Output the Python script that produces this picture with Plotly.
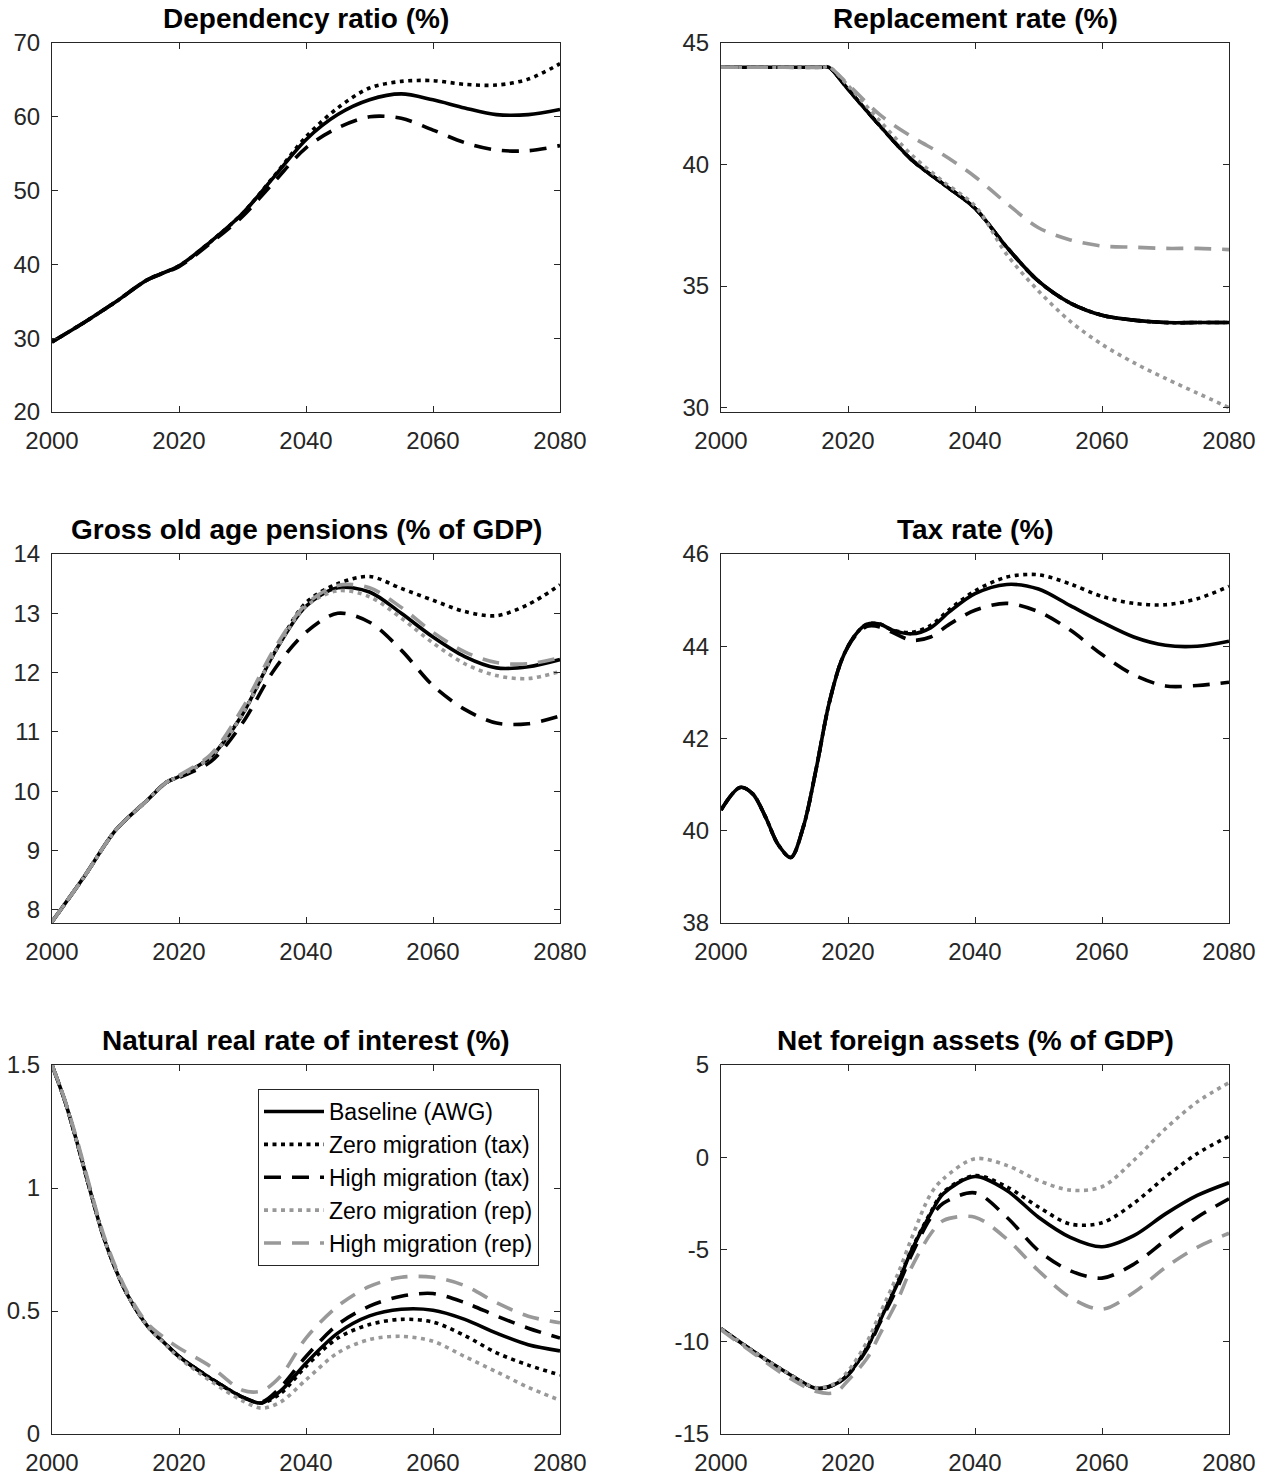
import plotly.graph_objects as go

# ---------------- data ----------------
DEP_YEARS = [2000, 2005, 2010, 2015, 2020, 2025, 2030, 2035, 2040, 2045, 2050, 2055, 2060, 2065, 2070, 2075, 2080]
DEP_BASE = [29.5, 32.1, 34.9, 37.9, 39.8, 43.1, 46.9, 51.9, 56.9, 60.3, 62.3, 63.1, 62.3, 61.2, 60.3, 60.3, 61.0]
DEP_ZERO_TAX = [29.5, 32.1, 34.9, 37.9, 39.8, 43.1, 46.9, 52.0, 57.3, 61.2, 63.9, 64.8, 64.9, 64.4, 64.3, 65.1, 67.2]
DEP_HIGH_TAX = [29.5, 32.1, 34.9, 37.9, 39.7, 42.9, 46.5, 51.2, 55.8, 58.5, 60.0, 59.8, 58.2, 56.5, 55.5, 55.4, 56.1]

REP_YEARS = [2000, 2010, 2016, 2017, 2020, 2025, 2030, 2035, 2040, 2045, 2050, 2055, 2060, 2065, 2070, 2075, 2080]
REP_BASE = [44.0, 44.0, 44.0, 44.0, 43.1, 41.6, 40.2, 39.2, 38.2, 36.6, 35.2, 34.3, 33.8, 33.6, 33.5, 33.5, 33.5]
REP_ZERO_TAX = [44.0, 44.0, 44.0, 44.0, 43.1, 41.6, 40.2, 39.2, 38.2, 36.6, 35.2, 34.3, 33.8, 33.6, 33.5, 33.5, 33.5]
REP_HIGH_TAX = [44.0, 44.0, 44.0, 44.0, 43.1, 41.6, 40.2, 39.2, 38.2, 36.6, 35.2, 34.3, 33.8, 33.6, 33.5, 33.5, 33.5]
REP_ZERO_REP = [44.0, 44.0, 44.0, 44.02, 43.25, 41.8, 40.4, 39.3, 38.3, 36.3, 34.8, 33.55, 32.6, 31.85, 31.2, 30.6, 30.0]
REP_HIGH_REP = [44.0, 44.0, 44.0, 44.02, 43.3, 42.05, 41.15, 40.4, 39.5, 38.4, 37.4, 36.9, 36.65, 36.6, 36.55, 36.55, 36.5]

PEN_YEARS = [2000, 2005, 2010, 2015, 2018, 2020, 2025, 2030, 2035, 2040, 2045, 2050, 2055, 2060, 2065, 2070, 2075, 2080]
PEN_BASE = [7.8, 8.55, 9.34, 9.85, 10.15, 10.25, 10.58, 11.3, 12.33, 13.12, 13.43, 13.36, 13.0, 12.6, 12.27, 12.08, 12.1, 12.22]
PEN_ZERO_TAX = [7.8, 8.55, 9.34, 9.85, 10.15, 10.25, 10.58, 11.3, 12.33, 13.18, 13.5, 13.62, 13.42, 13.22, 13.03, 12.96, 13.15, 13.48]
PEN_HIGH_TAX = [7.8, 8.55, 9.34, 9.85, 10.15, 10.23, 10.5, 11.15, 12.05, 12.68, 13.0, 12.85, 12.38, 11.78, 11.38, 11.15, 11.14, 11.27]
PEN_ZERO_REP = [7.8, 8.55, 9.34, 9.85, 10.15, 10.25, 10.58, 11.3, 12.33, 13.12, 13.38, 13.28, 12.92, 12.5, 12.15, 11.95, 11.9, 12.02]
PEN_HIGH_REP = [7.8, 8.55, 9.34, 9.85, 10.15, 10.27, 10.62, 11.4, 12.4, 13.15, 13.47, 13.43, 13.1, 12.68, 12.35, 12.17, 12.15, 12.25]

TAX_YEARS = [2000, 2003, 2005, 2007, 2009, 2011, 2013, 2015, 2017, 2019, 2021, 2023, 2025, 2027, 2030, 2033, 2036, 2040, 2045, 2050, 2055, 2060, 2065, 2070, 2075, 2080]
TAX_BASE = [40.45, 40.94, 40.8, 40.3, 39.7, 39.42, 40.1, 41.35, 42.75, 43.7, 44.22, 44.48, 44.48, 44.35, 44.27, 44.4, 44.75, 45.14, 45.34, 45.24, 44.88, 44.52, 44.2, 44.02, 44.0, 44.11]
TAX_ZERO_TAX = [40.45, 40.94, 40.8, 40.3, 39.7, 39.42, 40.1, 41.35, 42.75, 43.7, 44.22, 44.48, 44.48, 44.35, 44.3, 44.45, 44.8, 45.2, 45.5, 45.55, 45.35, 45.08, 44.93, 44.9, 45.03, 45.3]
TAX_HIGH_TAX = [40.45, 40.94, 40.8, 40.3, 39.7, 39.42, 40.1, 41.35, 42.75, 43.7, 44.2, 44.43, 44.42, 44.3, 44.13, 44.2, 44.48, 44.78, 44.93, 44.75, 44.35, 43.82, 43.38, 43.14, 43.15, 43.22]

INT_YEARS = [2000, 2002, 2004, 2006, 2008, 2010, 2012, 2015, 2018, 2020, 2025, 2030, 2033, 2036, 2040, 2045, 2050, 2055, 2060, 2065, 2070, 2075, 2080]
INT_BASE = [1.5, 1.356, 1.18, 0.99, 0.81, 0.67, 0.56, 0.44, 0.363, 0.315, 0.226, 0.15, 0.126, 0.175, 0.288, 0.41, 0.48, 0.507, 0.503, 0.466, 0.41, 0.363, 0.338]
INT_ZERO_TAX = [1.5, 1.356, 1.18, 0.99, 0.81, 0.67, 0.56, 0.44, 0.363, 0.315, 0.226, 0.15, 0.126, 0.165, 0.275, 0.39, 0.445, 0.466, 0.455, 0.40, 0.33, 0.28, 0.24]
INT_HIGH_TAX = [1.5, 1.356, 1.18, 0.99, 0.81, 0.67, 0.56, 0.44, 0.363, 0.315, 0.226, 0.15, 0.13, 0.19, 0.315, 0.445, 0.52, 0.56, 0.571, 0.534, 0.48, 0.43, 0.39]
INT_ZERO_REP = [1.5, 1.356, 1.18, 0.99, 0.81, 0.67, 0.56, 0.44, 0.36, 0.31, 0.215, 0.135, 0.105, 0.13, 0.22, 0.33, 0.384, 0.397, 0.377, 0.315, 0.253, 0.19, 0.137]
INT_HIGH_REP = [1.5, 1.36, 1.19, 1.0, 0.82, 0.68, 0.57, 0.45, 0.385, 0.35, 0.274, 0.178, 0.175, 0.235, 0.39, 0.52, 0.6, 0.637, 0.637, 0.603, 0.534, 0.479, 0.452]

NFA_YEARS = [2000, 2005, 2010, 2015, 2018, 2020, 2023, 2025, 2028, 2030, 2033, 2035, 2040, 2045, 2050, 2055, 2060, 2065, 2070, 2075, 2080]
NFA_BASE = [-9.3, -10.5, -11.6, -12.53, -12.3, -11.77, -10.32, -8.87, -6.7, -5.06, -3.07, -1.98, -1.04, -1.8, -3.25, -4.34, -4.85, -4.25, -3.07, -2.07, -1.38]
NFA_ZERO_TAX = [-9.3, -10.5, -11.6, -12.5, -12.3, -11.75, -10.3, -8.85, -6.6, -5.0, -3.0, -1.9, -1.0, -1.6, -2.7, -3.62, -3.55, -2.5, -1.07, 0.2, 1.14]
NFA_HIGH_TAX = [-9.3, -10.5, -11.6, -12.53, -12.3, -11.8, -10.4, -9.0, -6.9, -5.3, -3.3, -2.5, -1.93, -3.25, -5.06, -6.15, -6.55, -5.8, -4.5, -3.25, -2.25]
NFA_ZERO_REP = [-9.3, -10.5, -11.6, -12.5, -12.25, -11.6, -10.0, -8.5, -6.2, -4.4, -2.0, -1.17, -0.08, -0.44, -1.26, -1.78, -1.6, -0.17, 1.55, 3.0, 4.04]
NFA_HIGH_REP = [-9.35, -10.6, -11.8, -12.7, -12.75, -12.1, -10.9, -9.6, -7.6, -5.97, -4.16, -3.43, -3.25, -4.43, -6.15, -7.6, -8.24, -7.33, -5.97, -4.88, -4.12]

SERIES_NAMES = ["Baseline (AWG)", "Zero migration (tax)", "High migration (tax)",
                "Zero migration (rep)", "High migration (rep)"]
TITLES = ["Dependency ratio (%)", "Replacement rate (%)", "Gross old age pensions (% of GDP)",
          "Tax rate (%)", "Natural real rate of interest (%)", "Net foreign assets (% of GDP)"]

# ---------------- style ----------------
W, H = 1268, 1480
BLACK = "#000000"
GRAY = "#999999"
AXC = "#262626"
FONT = "Liberation Sans, Arial, sans-serif"
LW = 3.6
DOT = "4px,4.5px"
DASH = "17px,11px"
STYLES = [
    dict(color=BLACK, width=LW, dash="solid"),
    dict(color=BLACK, width=LW, dash=DOT),
    dict(color=BLACK, width=LW, dash=DASH),
    dict(color=GRAY, width=LW, dash=DOT),
    dict(color=GRAY, width=LW, dash=DASH),
]

COLS = [(52, 560), (721, 1229)]
ROWS = [(43, 412), (554, 923), (1065, 1434)]

panels = [
    dict(years=DEP_YEARS, series=[DEP_BASE, DEP_ZERO_TAX, DEP_HIGH_TAX, None, None],
         yrange=[20, 70], ytick=[20, 30, 40, 50, 60, 70]),
    dict(years=REP_YEARS, series=[REP_BASE, REP_ZERO_TAX, REP_HIGH_TAX, REP_ZERO_REP, REP_HIGH_REP],
         yrange=[29.82, 45], ytick=[30, 35, 40, 45]),
    dict(years=PEN_YEARS, series=[PEN_BASE, PEN_ZERO_TAX, PEN_HIGH_TAX, PEN_ZERO_REP, PEN_HIGH_REP],
         yrange=[7.78, 14], ytick=[8, 9, 10, 11, 12, 13, 14]),
    dict(years=TAX_YEARS, series=[TAX_BASE, TAX_ZERO_TAX, TAX_HIGH_TAX, None, None],
         yrange=[38, 46], ytick=[38, 40, 42, 44, 46]),
    dict(years=INT_YEARS, series=[INT_BASE, INT_ZERO_TAX, INT_HIGH_TAX, INT_ZERO_REP, INT_HIGH_REP],
         yrange=[0, 1.5], ytick=[0, 0.5, 1, 1.5]),
    dict(years=NFA_YEARS, series=[NFA_BASE, NFA_ZERO_TAX, NFA_HIGH_TAX, NFA_ZERO_REP, NFA_HIGH_REP],
         yrange=[-15, 5], ytick=[-15, -10, -5, 0, 5]),
]

fig = go.Figure()
annotations = []
layout_axes = {}

for i, p in enumerate(panels):
    r, c = divmod(i, 2)
    x0, x1 = COLS[c]
    top, bot = ROWS[r]
    n = i + 1
    xa = "x" if n == 1 else f"x{n}"
    ya = "y" if n == 1 else f"y{n}"
    for k, ser in enumerate(p["series"]):
        if ser is None:
            continue
        fig.add_trace(go.Scatter(
            x=p["years"], y=ser, mode="lines", name=SERIES_NAMES[k],
            line=dict(shape="spline", smoothing=0.9, **STYLES[k]),
            xaxis=xa, yaxis=ya, showlegend=(i == 4), hoverinfo="skip",
        ))
    common = dict(showline=True, linecolor=AXC, linewidth=1, mirror="ticks",
                  ticks="inside", ticklen=6, tickwidth=1, tickcolor=AXC,
                  showgrid=False, zeroline=False, automargin=False,
                  tickfont=dict(family=FONT, size=24, color=AXC))
    layout_axes[f"xaxis{'' if n == 1 else n}"] = dict(
        domain=[x0 / W, x1 / W], range=[2000, 2080], anchor=ya,
        tickvals=[2000, 2020, 2040, 2060, 2080], ticklabelstandoff=7, **common)
    layout_axes[f"yaxis{'' if n == 1 else n}"] = dict(
        domain=[1 - bot / H, 1 - top / H], range=p["yrange"], anchor=xa,
        tickvals=p["ytick"], ticktext=[f"{v:g}" for v in p["ytick"]],
        ticklabelstandoff=6, **common)
    annotations.append(dict(
        text=f"<b>{TITLES[i]}</b>", x=(x0 + x1) / 2 / W, y=1 - (top - 7) / H,
        xref="paper", yref="paper", xanchor="center", yanchor="bottom",
        showarrow=False, font=dict(family=FONT, size=28, color="#000000")))

fig.update_layout(
    width=W, height=H,
    margin=dict(l=0, r=0, t=0, b=0),
    paper_bgcolor="white", plot_bgcolor="white",
    annotations=annotations,
    legend=dict(x=539 / W, y=1 - 1089 / H, xanchor="right", yanchor="top",
                bgcolor="white", bordercolor=AXC, borderwidth=1,
                font=dict(family=FONT, size=23, color="#000000"),
                tracegroupgap=0, itemwidth=60),
    **layout_axes,
)

fig.write_html("out.html")
